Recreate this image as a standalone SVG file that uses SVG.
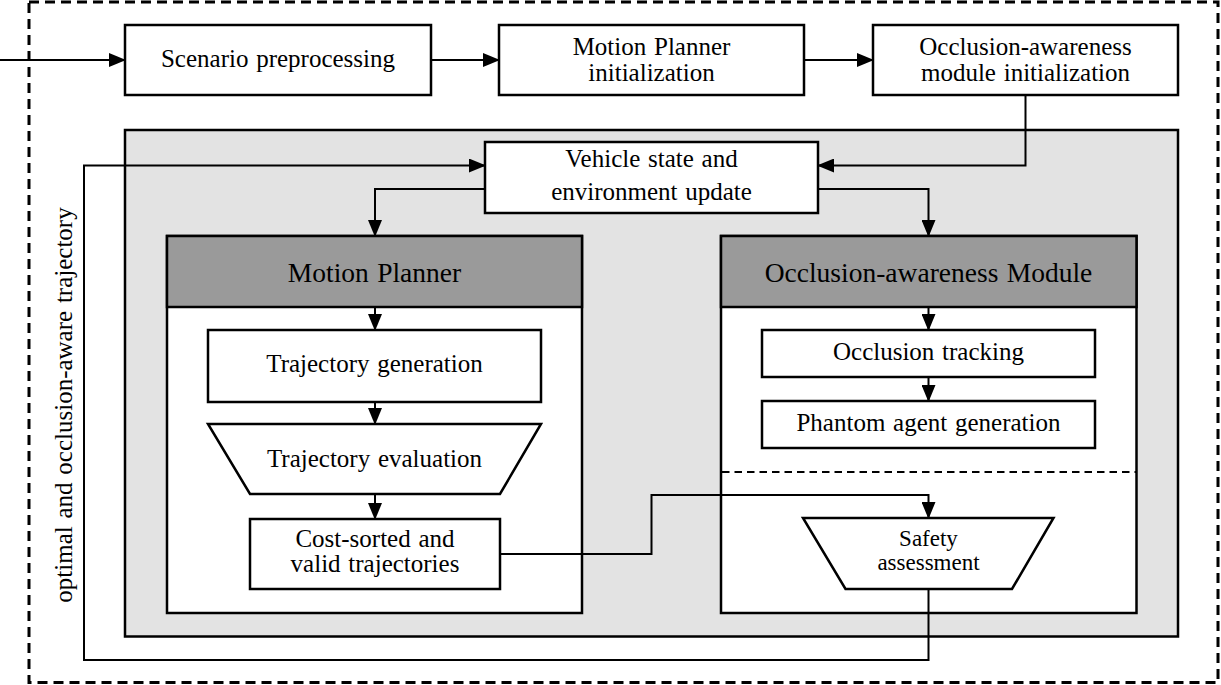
<svg xmlns="http://www.w3.org/2000/svg" width="1221" height="685" viewBox="0 0 1221 685">
<style>
text{font-family:"Liberation Serif","Times New Roman",serif;font-size:25px;fill:#000;text-anchor:middle;word-spacing:1.5px}
.hdr{font-size:27.5px}
.sm{font-size:23px}
.box{fill:#fff;stroke:#000;stroke-width:2.5}
.hfill{fill:#9a9a9a;stroke:#000;stroke-width:2.5}
.gray{fill:#e3e3e3;stroke:#000;stroke-width:2.5}
.dash{fill:none;stroke:#000;stroke-width:3;stroke-dasharray:10 6}
.idash{fill:none;stroke:#000;stroke-width:2.2;stroke-dasharray:7.5 5}
.conn{fill:none;stroke:#000;stroke-width:2}
.arr{marker-end:url(#ah)}
</style>
<defs>
<marker id="ah" markerUnits="userSpaceOnUse" markerWidth="17" markerHeight="14" viewBox="0 0 17 14" refX="16" refY="7" orient="auto">
<path d="M0,0 L17,7 L0,14 z" fill="#000"/>
</marker>
</defs>
<rect width="1221" height="685" fill="#fff"/>
<g id="outer">
<rect class="dash" x="29" y="2" width="1189" height="680.5"/>
</g>
<g id="loop">
<rect class="gray" x="125" y="130" width="1053" height="506.5"/>
</g>
<g id="scenario">
<rect class="box" x="125" y="25" width="306" height="70"/>
<text x="278" y="67">Scenario preprocessing</text>
</g>
<g id="mpinit">
<rect class="box" x="499" y="25" width="305" height="70"/>
<text x="651.5" y="54.5">Motion Planner</text>
<text x="651.5" y="80.5">initialization</text>
</g>
<g id="oainit">
<rect class="box" x="873" y="25" width="305" height="70"/>
<text x="1025.5" y="54.5">Occlusion-awareness</text>
<text x="1025.5" y="80.5">module initialization</text>
</g>
<g id="vehicle">
<rect class="box" x="485" y="142" width="333" height="71"/>
<text x="651.5" y="166.5">Vehicle state and</text>
<text x="651.5" y="199.5">environment update</text>
</g>
<g id="motionplanner">
<rect class="box" x="167" y="236" width="415" height="377"/>
<rect class="hfill" x="167" y="236" width="415" height="71"/>
<text class="hdr" x="374.5" y="282">Motion Planner</text>
</g>
<g id="trajgen">
<rect class="box" x="208" y="330" width="333" height="72"/>
<text x="374.5" y="371.5">Trajectory generation</text>
</g>
<g id="trajeval">
<polygon class="box" points="208,424 541,424 500,494 250,494"/>
<text x="374.5" y="467">Trajectory evaluation</text>
</g>
<g id="costsorted">
<rect class="box" x="250" y="519" width="250" height="70"/>
<text x="375" y="547">Cost-sorted and</text>
<text x="375" y="572">valid trajectories</text>
</g>
<g id="oamodule">
<rect class="box" x="721" y="236" width="415.5" height="377"/>
<rect class="hfill" x="721" y="236" width="415.5" height="71"/>
<text class="hdr" x="928.5" y="282">Occlusion-awareness Module</text>
<line class="idash" x1="722" y1="472" x2="1136" y2="472"/>
</g>
<g id="occtrack">
<rect class="box" x="762" y="330" width="333" height="47"/>
<text x="928.5" y="360">Occlusion tracking</text>
</g>
<g id="phantom">
<rect class="box" x="762" y="401" width="333" height="47"/>
<text x="928.5" y="431">Phantom agent generation</text>
</g>
<g id="safety">
<polygon class="box" points="803,518 1053.5,518 1012,589 845.5,589"/>
<text class="sm" x="928.5" y="546">Safety</text>
<text class="sm" x="928.5" y="569.5">assessment</text>
</g>
<g id="label">
<text transform="translate(72,405) rotate(-90)">optimal and occlusion-aware trajectory</text>
</g>
<g id="connectors">
<path class="conn arr" d="M0,60 H125"/>
<path class="conn arr" d="M431,60 H499"/>
<path class="conn arr" d="M804,60 H873"/>
<path class="conn arr" d="M1025.5,95 V165.5 H818"/>
<path class="conn arr" d="M485,189 H375 V236"/>
<path class="conn arr" d="M818,189 H928.5 V236"/>
<path class="conn arr" d="M375,307 V330"/>
<path class="conn arr" d="M375,402 V424"/>
<path class="conn arr" d="M375,494 V519"/>
<path class="conn arr" d="M928.5,307 V330"/>
<path class="conn arr" d="M928.5,377 V401"/>
<path class="conn arr" d="M500,554 H651.5 V495 H928.5 V518"/>
<path class="conn arr" d="M928.5,589 V660 H84 V165.5 H485"/>
</g>
</svg>
